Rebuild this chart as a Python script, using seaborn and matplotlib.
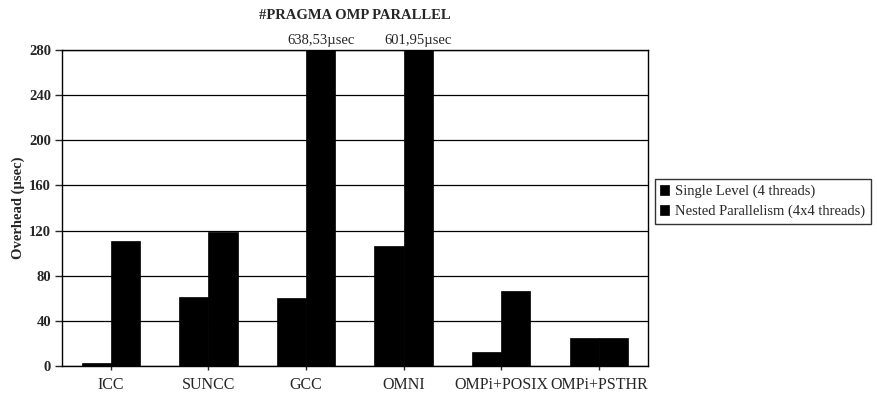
import pandas as pd
import matplotlib.pyplot as plt
import seaborn as sns

# Data
compilers = ["ICC", "SUNCC", "GCC", "OMNI", "OMPi+POSIX", "OMPi+PSTHR"]
single_level = [3, 61, 60, 106, 12, 25]
nested = [111, 119, 638.53, 601.95, 66, 25]
series_names = ["Single Level (4 threads)", "Nested Parallelism (4x4 threads)"]
ymax = 280

df = pd.DataFrame({
    "Compiler": compilers * 2,
    "Overhead": single_level + nested,
    "Series": [series_names[0]] * len(compilers) + [series_names[1]] * len(compilers),
})

sns.set_style("white")
plt.rcParams["font.family"] = ["Liberation Serif", "DejaVu Serif"]

fig = plt.figure(figsize=(8.78, 4.03), dpi=100)
ax = fig.add_axes([0.0706, 0.092, 0.667, 0.784])

sns.barplot(
    data=df, x="Compiler", y="Overhead", hue="Series",
    palette=["black", "black"], width=0.6, gap=0, saturation=1,
    edgecolor="black", linewidth=0.5, ax=ax, zorder=3
)

ax.set_ylim(0, ymax)
ax.set_yticks(range(0, ymax + 1, 40))
ax.yaxis.grid(True, color="black", linewidth=0.9)
ax.set_axisbelow(True)
for s in ax.spines.values():
    s.set_visible(True)
    s.set_color("black")
    s.set_linewidth(1.0)

ax.tick_params(axis="y", left=True, length=5, width=1, labelsize=10.5, pad=3)
ax.tick_params(axis="x", bottom=True, length=3, width=1, labelsize=11.5, pad=5)
for t in ax.get_yticklabels():
    t.set_fontweight("bold")

ax.set_xlabel("")
ax.set_ylabel("Overhead (µsec)", fontsize=10.5, fontweight="bold", labelpad=3)
ax.set_title("#PRAGMA OMP PARALLEL", fontsize=10.5, fontweight="bold", pad=22)

# labels for bars cut off at the top
for bar, val in zip(ax.containers[1], nested):
    if val > ymax:
        ax.text(bar.get_x() + bar.get_width() / 2, ymax + 3,
                f"{val:.2f}".replace(".", ",") + "µsec",
                ha="center", va="bottom", fontsize=10.5)

ax.legend(loc="center left", bbox_to_anchor=(1.012, 0.52), frameon=True,
          fancybox=False, edgecolor="black", fontsize=10.5,
          handlelength=0.6, handleheight=0.6, handletextpad=0.4,
          borderpad=0.4, labelspacing=0.45, borderaxespad=0)

fig.savefig("out.png", dpi=100)
